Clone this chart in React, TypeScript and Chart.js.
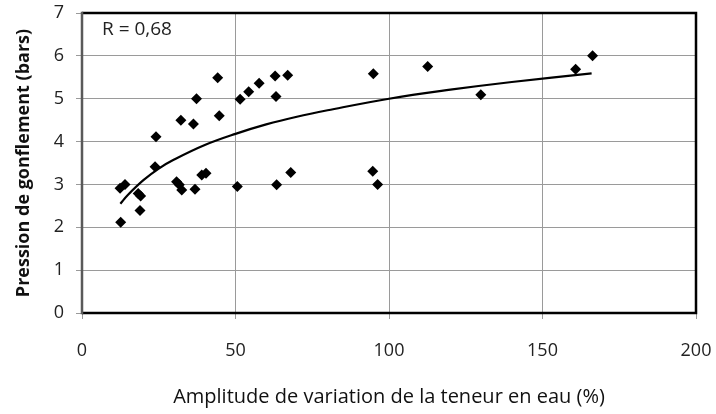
import React, { useEffect, useRef } from "react";
import { Chart, registerables } from "chart.js";

Chart.register(...registerables);

const amplitudeX = [12.4, 14.0, 12.6, 18.3, 19.1, 18.9, 23.8, 24.1, 30.8, 31.7, 32.5, 32.2, 36.3, 37.3, 36.8, 39.0, 40.4, 44.2, 44.7, 50.6, 51.5, 54.3, 57.7, 62.9, 63.2, 63.4, 67.0, 68.0, 94.9, 94.7, 96.3, 112.6, 129.9, 160.8, 166.3];
const pressionY = [2.91, 3.0, 2.12, 2.79, 2.73, 2.39, 3.41, 4.11, 3.06, 2.99, 2.87, 4.5, 4.41, 5.0, 2.89, 3.22, 3.26, 5.49, 4.6, 2.95, 4.99, 5.16, 5.36, 5.53, 5.05, 2.99, 5.55, 3.28, 5.58, 3.31, 3.0, 5.75, 5.09, 5.69, 6.0];

const trendX = [12.5, 15, 20, 25, 30, 40, 50, 60, 70, 80, 100, 120, 140, 166];
const trendY = [2.55, 2.76, 3.1, 3.37, 3.58, 3.92, 4.18, 4.4, 4.58, 4.73, 5.0, 5.21, 5.39, 5.59];

const xTicks = [0, 50, 100, 150, 200];
const yTicks = [0, 1, 2, 3, 4, 5, 6, 7];
const xTitle = "Amplitude de variation de la teneur en eau (%)";
const yTitle = "Pression de gonflement (bars)";
const rLabel = "R = 0,68";

const FONT = "'Open Sans', sans-serif";

export default function App() {
  const ref = useRef<HTMLCanvasElement | null>(null);
  useEffect(() => {
    document.body.style.margin = "0";
    const canvas = ref.current;
    if (!canvas) return;
    const borderPlugin = {
      id: "frame",
      afterDraw(chart: any) {
        const { ctx, chartArea } = chart;
        const { left, right, top, bottom } = chartArea;
        ctx.save();
        ctx.lineWidth = 2.5;
        ctx.strokeStyle = "#000";
        ctx.beginPath();
        ctx.moveTo(left, top);
        ctx.lineTo(right, top);
        ctx.lineTo(right, bottom);
        ctx.lineTo(left, bottom);
        ctx.stroke();
        ctx.strokeStyle = "#5a5a5a";
        ctx.beginPath();
        ctx.moveTo(left, top - 1.25);
        ctx.lineTo(left, bottom + 1.25);
        ctx.stroke();
        ctx.fillStyle = "#222";
        ctx.font = `19px ${FONT}`;
        ctx.textBaseline = "middle";
        ctx.textAlign = "left";
        ctx.fillText(rLabel, left + 20, top + 17);
        ctx.restore();
      },
    };
    const chart = new Chart(canvas, {
      type: "scatter",
      data: {
        datasets: [
          {
            data: trendX.map((x, i) => ({ x, y: trendY[i] })),
            type: "line",
            showLine: true,
            borderColor: "#000",
            borderWidth: 2.2,
            pointRadius: 0,
            tension: 0.4,
            fill: false,
          },
          {
            data: amplitudeX.map((x, i) => ({ x, y: pressionY[i] })),
            pointStyle: "rectRot",
            pointRadius: 5.5,
            backgroundColor: "#000",
            borderColor: "#000",
            borderWidth: 0,
          },
        ],
      },
      options: {
        responsive: false,
        animation: false,
        layout: { padding: { left: 0, right: 20, top: 13, bottom: 0 } },
        plugins: { legend: { display: false }, tooltip: { enabled: false } },
        scales: {
          x: {
            type: "linear",
            min: 0,
            max: 200,
            afterBuildTicks: (axis: any) => {
              axis.ticks = xTicks.map((v) => ({ value: v }));
            },
            afterFit: (axis: any) => {
              axis.height = 101;
              axis.paddingLeft = 0;
              axis.paddingRight = 0;
            },
            grid: { color: "#9a9a9a", lineWidth: 1, tickLength: 6, drawTicks: true },
            border: { display: false },
            ticks: { color: "#222", font: { family: FONT, size: 18 }, padding: 21, maxRotation: 0 },
            title: {
              display: true,
              text: xTitle,
              color: "#111",
              font: { family: FONT, size: 20 },
              padding: { top: 0, bottom: 5 },
            },
          },
          y: {
            type: "linear",
            min: 0,
            max: 7,
            afterBuildTicks: (axis: any) => {
              axis.ticks = yTicks.map((v) => ({ value: v }));
            },
            afterFit: (axis: any) => {
              axis.width = 82;
              axis.paddingTop = 0;
              axis.paddingBottom = 0;
            },
            grid: { color: "#9a9a9a", lineWidth: 1, tickLength: 6, drawTicks: true },
            border: { display: false },
            ticks: { color: "#222", font: { family: FONT, size: 18 }, padding: 12 },
            title: {
              display: true,
              text: yTitle,
              color: "#111",
              font: { family: FONT, size: 18, weight: "bold" },
              padding: { top: 13, bottom: 0 },
            },
          },
        },
      },
      plugins: [borderPlugin],
    });
    return () => chart.destroy();
  }, []);
  return (
    <div style={{ position: "relative", width: 716, height: 414 }}>
      <canvas ref={ref} width={716} height={414} style={{ width: 716, height: 414, display: "block" }} />
    </div>
  );
}
